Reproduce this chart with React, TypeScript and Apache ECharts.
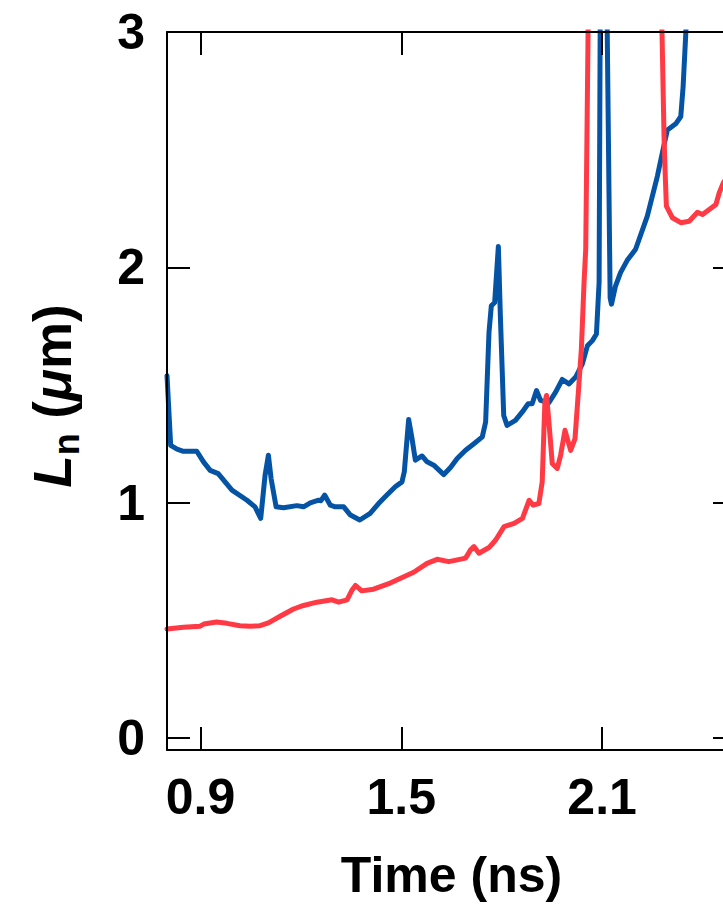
import React, { useEffect, useRef } from "react";
import * as echarts from "echarts";

const xTicks = [0.9, 1.5, 2.1];
const yTicks = [0, 1, 2, 3];

const blueTime = [
  0.8, 0.811, 0.83, 0.849, 0.889, 0.909, 0.929, 0.953, 0.994, 1.039, 1.063, 1.08, 1.093, 1.103, 1.111,
  1.126, 1.148, 1.188, 1.208, 1.228, 1.253, 1.26, 1.271, 1.288, 1.303, 1.328, 1.348, 1.376, 1.407,
  1.432, 1.457, 1.482, 1.502, 1.509, 1.522, 1.532, 1.542, 1.562, 1.577, 1.597, 1.627, 1.647, 1.667,
  1.692, 1.717, 1.742, 1.752, 1.762, 1.769, 1.779, 1.79, 1.796, 1.806, 1.816, 1.841, 1.861, 1.879,
  1.891, 1.904, 1.916, 1.941, 1.961, 1.981, 2.001, 2.021, 2.041, 2.056, 2.071, 2.083, 2.091, 2.095,
  2.104, 2.113, 2.124, 2.128, 2.14, 2.155, 2.175, 2.2, 2.235, 2.265, 2.285, 2.295, 2.32, 2.335,
  2.342, 2.35, 2.36,
];
const blueLn = [
  1.54, 1.244, 1.228, 1.219, 1.219, 1.174, 1.138, 1.124, 1.054, 1.011, 0.983, 0.934, 1.117, 1.202, 1.103,
  0.983, 0.979, 0.988, 0.983, 1.0, 1.011, 1.009, 1.033, 0.99, 0.983, 0.983, 0.948, 0.927, 0.955,
  0.997, 1.033, 1.068, 1.089, 1.132, 1.354, 1.273, 1.181, 1.199, 1.174, 1.16, 1.12, 1.15, 1.188,
  1.223, 1.251, 1.28, 1.343, 1.724, 1.837, 1.851, 2.089, 1.794, 1.371, 1.329, 1.35, 1.385, 1.421,
  1.421, 1.477, 1.435, 1.425, 1.47, 1.524, 1.505, 1.534, 1.59, 1.667, 1.689, 1.717, 1.936, 3.3,
  3.5, 3.3, 1.87, 1.844, 1.921, 1.978, 2.03, 2.077, 2.218, 2.387, 2.52, 2.584, 2.61, 2.641,
  2.768, 2.994, 3.4,
];

const redTime = [
  0.8, 0.849, 0.899, 0.91, 0.948, 0.979, 1.018, 1.048, 1.078, 1.103, 1.138, 1.178, 1.208, 1.248, 1.293,
  1.313, 1.338, 1.353, 1.363, 1.382, 1.417, 1.467, 1.537, 1.577, 1.607, 1.642, 1.692, 1.707, 1.717,
  1.732, 1.762, 1.782, 1.807, 1.837, 1.862, 1.882, 1.894, 1.911, 1.921, 1.929, 1.934, 1.941, 1.951,
  1.966, 1.976, 1.989, 2.006, 2.019, 2.029, 2.038, 2.046, 2.051, 2.058, 2.066, 2.27, 2.279, 2.285,
  2.288, 2.292, 2.31, 2.335, 2.36, 2.385, 2.4, 2.42, 2.44, 2.45, 2.462, 2.48, 2.5,
];
const redLn = [
  0.464, 0.471, 0.476, 0.485, 0.494, 0.488, 0.478, 0.476, 0.478, 0.49, 0.518, 0.549, 0.564, 0.578, 0.588,
  0.578, 0.588, 0.63, 0.649, 0.626, 0.633, 0.659, 0.705, 0.743, 0.76, 0.75, 0.765, 0.8, 0.814,
  0.786, 0.81, 0.842, 0.899, 0.913, 0.934, 1.011, 0.99, 0.997, 1.089, 1.428, 1.456, 1.343, 1.167,
  1.146, 1.202, 1.308, 1.223, 1.273, 1.47, 1.653, 1.936, 2.077, 2.994, 3.5, 3.5, 2.994, 2.556,
  2.415, 2.26, 2.211, 2.19, 2.196, 2.234, 2.225, 2.246, 2.267, 2.317, 2.359, 2.4, 2.43,
];

const FONT = "'Liberation Sans', Arial, Helvetica, sans-serif";
const BLUE = "#0453a5";
const RED = "#ff3a45";

export default function App() {
  const ref = useRef<HTMLDivElement>(null);
  useEffect(() => {
    if (!ref.current) return;
    const chart = echarts.init(ref.current, null, { renderer: "svg" });

    const ctx = document.createElement("canvas").getContext("2d")!;
    const segs = [
      { t: "L", size: 53, style: "italic", dy: 0 },
      { t: "n", size: 36, style: "normal", dy: 14 },
      { t: " (", size: 53, style: "normal", dy: 0 },
      { t: "\u03bc", size: 53, style: "italic", dy: 0 },
      { t: "m)", size: 53, style: "normal", dy: 0 },
    ];
    const widths = segs.map((s) => {
      ctx.font = `${s.style} bold ${s.size}px ${FONT}`;
      return ctx.measureText(s.t).width;
    });
    const total = widths.reduce((a, b) => a + b, 0);
    let pos = -total / 2;
    const titleChildren = segs.map((s, i) => {
      const el = {
        type: "text",
        x: pos,
        y: s.dy,
        style: {
          text: s.t,
          fontSize: s.size,
          fontWeight: "bold",
          fontStyle: s.style,
          fontFamily: FONT,
          fill: "#000",
          align: "left",
          verticalAlign: "middle",
        },
      };
      pos += widths[i];
      return el;
    });

    const xMin = 0.8;
    const xMax = 2.5;
    const yMin = -0.05;
    const yMax = 3;

    const axisLine = { show: true, onZero: false, lineStyle: { color: "#000", width: 2 } };
    const tickStyle = { color: "#000", width: 2 };
    const labelStyle = { fontSize: 50, fontWeight: "bold", fontFamily: FONT, color: "#000" };

    chart.setOption({
      animation: false,
      grid: { left: 167, top: 32, width: 569, height: 720, containLabel: false },
      xAxis: [
        {
          type: "value",
          position: "bottom",
          min: xMin,
          max: xMax,
          axisLine,
          axisTick: { show: true, inside: true, length: 23, customValues: xTicks, lineStyle: tickStyle },
          axisLabel: { ...labelStyle, customValues: xTicks, margin: 22, formatter: (v: number) => v.toFixed(1) },
          splitLine: { show: false },
          name: "Time (ns)",
          nameLocation: "middle",
          nameGap: 100,
          nameTextStyle: { ...labelStyle },
          z: 5,
        },
        {
          type: "value",
          position: "top",
          min: xMin,
          max: xMax,
          axisLine,
          axisTick: { show: true, inside: true, length: 23, customValues: xTicks, lineStyle: tickStyle },
          axisLabel: { show: false },
          splitLine: { show: false },
          z: 5,
        },
      ],
      yAxis: [
        {
          type: "value",
          position: "left",
          min: yMin,
          max: yMax,
          axisLine,
          axisTick: { show: true, inside: true, length: 23, customValues: yTicks, lineStyle: tickStyle },
          axisLabel: { ...labelStyle, customValues: yTicks, margin: 22, formatter: (v: number) => String(v) },
          splitLine: { show: false },
          z: 5,
        },
        {
          type: "value",
          position: "right",
          min: yMin,
          max: yMax,
          axisLine,
          axisTick: { show: true, inside: true, length: 23, customValues: yTicks, lineStyle: tickStyle },
          axisLabel: { show: false },
          splitLine: { show: false },
          z: 5,
        },
      ],
      graphic: [
        {
          type: "group",
          x: 52,
          y: 396,
          rotation: Math.PI / 2,
          children: titleChildren,
        },
      ],
      series: [
        {
          type: "line",
          name: "blue",
          data: blueTime.map((t, i) => [t, blueLn[i]]),
          showSymbol: false,
          clip: true,
          lineStyle: { color: BLUE, width: 5, join: "round", cap: "round" },
          itemStyle: { color: BLUE },
        },
        {
          type: "line",
          name: "red",
          data: redTime.map((t, i) => [t, redLn[i]]),
          showSymbol: false,
          clip: true,
          lineStyle: { color: RED, width: 5, join: "round", cap: "round" },
          itemStyle: { color: RED },
        },
      ],
    });
    return () => chart.dispose();
  }, []);
  return (
    <div style={{ position: "absolute", left: 0, top: 0, width: 723, height: 905, overflow: "hidden" }}>
      <div ref={ref} style={{ width: 760, height: 905 }} />
    </div>
  );
}
